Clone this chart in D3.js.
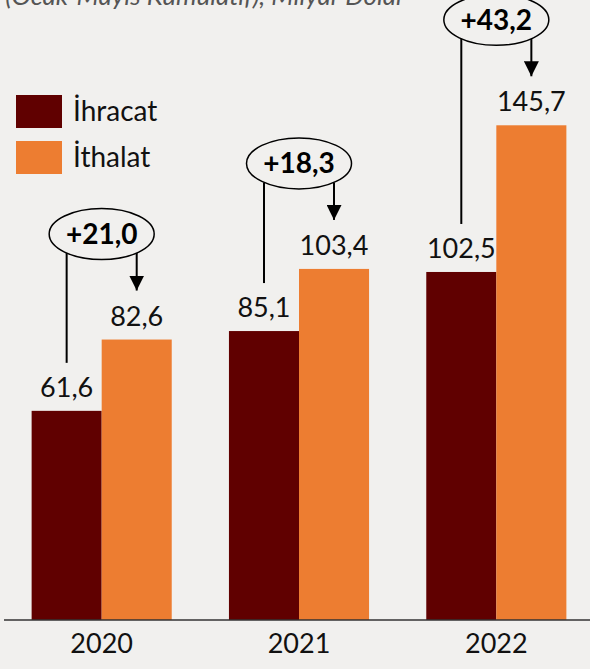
<!DOCTYPE html>
<html>
<head>
<meta charset="utf-8">
<script src="https://cdn.jsdelivr.net/npm/d3@7"></script>
<style>
  body { margin: 0; background: #f1f0ee; }
  svg { display: block; font-family: Lato, "Open Sans", sans-serif; }
</style>
</head>
<body>
<div class="chart"></div>
<script>
var svgWidth = 590;
var svgHeight = 669;

// data
var years = ["2020", "2021", "2022"];
var seriesNames = ["İhracat", "İthalat"];
var ihracat = [61.6, 85.1, 102.5];
var ithalat = [82.6, 103.4, 145.7];
var titleText = "Dış Ticaret (Ocak-Mayıs Kümülatif), Milyar Dolar";

var colors = ["#600000", "#ed7d31"];
var axisY = 620;

var tr = d3.formatLocale({ decimal: ",", thousands: ".", grouping: [3], currency: ["", ""] });
var fmt = tr.format(".1f");
var fmtDiff = tr.format("+.1f");

var svg = d3.select(".chart")
  .append("svg")
  .attr("width", svgWidth)
  .attr("height", svgHeight);

svg.append("rect")
  .attr("width", svgWidth)
  .attr("height", svgHeight)
  .attr("fill", "#f1f0ee");

// scales
var x0 = d3.scaleBand()
  .domain(years)
  .range([4, 594])
  .paddingInner(0.29)
  .paddingOuter(0.14);

var x1 = d3.scaleBand()
  .domain(seriesNames)
  .range([0, x0.bandwidth()]);

var y = d3.scaleLinear()
  .domain([0, 182.6])
  .range([axisY, 0]);

var rows = years.map(function(yr, i) {
  return { year: yr, values: [ihracat[i], ithalat[i]] };
});

// title (its upper half and left part are cut off, as in the source picture)
svg.append("text")
  .attr("x", 405)
  .attr("y", 5)
  .attr("text-anchor", "end")
  .style("font-style", "italic")
  .style("font-size", "26px")
  .style("fill", "#555")
  .text(titleText);

// bars
var groups = svg.selectAll(".grp")
  .data(rows)
  .enter().append("g")
    .attr("class", "grp")
    .attr("transform", function(d) { return "translate(" + x0(d.year) + ",0)"; });

groups.selectAll("rect")
  .data(function(d) { return d.values.map(function(v, j) { return { name: seriesNames[j], value: v, idx: j }; }); })
  .enter().append("rect")
    .attr("x", function(d) { return x1(d.name); })
    .attr("y", function(d) { return y(d.value); })
    .attr("width", x1.bandwidth())
    .attr("height", function(d) { return axisY - y(d.value); })
    .attr("fill", function(d) { return colors[d.idx]; });

groups.selectAll(".val")
  .data(function(d) { return d.values.map(function(v, j) { return { name: seriesNames[j], value: v }; }); })
  .enter().append("text")
    .attr("class", "val")
    .attr("x", function(d) { return x1(d.name) + x1.bandwidth() / 2; })
    .attr("y", function(d) { return y(d.value) - 14; })
    .attr("text-anchor", "middle")
    .style("font-size", "27px")
    .style("fill", "#111")
    .text(function(d) { return fmt(d.value); });

// difference annotations
var defs = svg.append("defs");
defs.append("marker")
  .attr("id", "arrow")
  .attr("viewBox", "0 0 10 10")
  .attr("refX", 10)
  .attr("refY", 5)
  .attr("markerUnits", "userSpaceOnUse")
  .attr("markerWidth", 15)
  .attr("markerHeight", 15)
  .attr("orient", "auto")
  .append("path")
    .attr("d", "M0,0L10,5L0,10Z")
    .attr("fill", "#000");

var rx = 52.5, ry = 25.5;
rows.forEach(function(d) {
  var cx = x0(d.year) + x0.bandwidth() / 2;
  var cy = y(d.values[1]) - 105.5;
  var lx = x0(d.year) + x1(seriesNames[0]) + x1.bandwidth() / 2;
  var rxPos = x0(d.year) + x1(seriesNames[1]) + x1.bandwidth() / 2;
  var g = svg.append("g");

  var dl = lx - cx;
  var ly0 = cy + ry * Math.sqrt(1 - (dl * dl) / (rx * rx));
  g.append("line")
    .attr("x1", lx).attr("x2", lx)
    .attr("y1", ly0)
    .attr("y2", y(d.values[0]) - 48)
    .attr("stroke", "#000")
    .attr("stroke-width", 2);

  var dr = rxPos - cx;
  var ry0 = cy + ry * Math.sqrt(1 - (dr * dr) / (rx * rx));
  g.append("line")
    .attr("x1", rxPos).attr("x2", rxPos)
    .attr("y1", ry0)
    .attr("y2", y(d.values[1]) - 49)
    .attr("stroke", "#000")
    .attr("stroke-width", 2)
    .attr("marker-end", "url(#arrow)");

  g.append("ellipse")
    .attr("cx", cx).attr("cy", cy)
    .attr("rx", rx).attr("ry", ry)
    .attr("fill", "#f1f0ee")
    .attr("stroke", "#000")
    .attr("stroke-width", 1.5);

  g.append("text")
    .attr("x", cx)
    .attr("y", cy + 10)
    .attr("text-anchor", "middle")
    .style("font-size", "28px")
    .style("font-weight", "bold")
    .style("fill", "#000")
    .text(fmtDiff(d.values[1] - d.values[0]));
});

// x axis
var xAxis = d3.axisBottom(x0).tickSize(0).tickPadding(14);
var axisG = svg.append("g")
  .attr("transform", "translate(0," + axisY + ")")
  .call(xAxis);
axisG.select(".domain").remove();
axisG.append("line")
  .attr("x1", 4).attr("x2", 590)
  .attr("stroke", "#333")
  .attr("stroke-width", 1.5);
axisG.selectAll(".tick text")
  .style("font-family", "Lato, 'Open Sans', sans-serif")
  .style("font-size", "27px")
  .style("fill", "#111");

// legend
var legend = svg.selectAll(".legend")
  .data(seriesNames)
  .enter().append("g")
    .attr("class", "legend")
    .attr("transform", function(d, i) { return "translate(16," + (95 + i * 46) + ")"; });

legend.append("rect")
  .attr("width", 46)
  .attr("height", 33)
  .attr("fill", function(d, i) { return colors[i]; });

legend.append("text")
  .attr("x", 57)
  .attr("y", 26)
  .style("font-size", "28px")
  .style("fill", "#111")
  .text(function(d) { return d; });
</script>
</body>
</html>
